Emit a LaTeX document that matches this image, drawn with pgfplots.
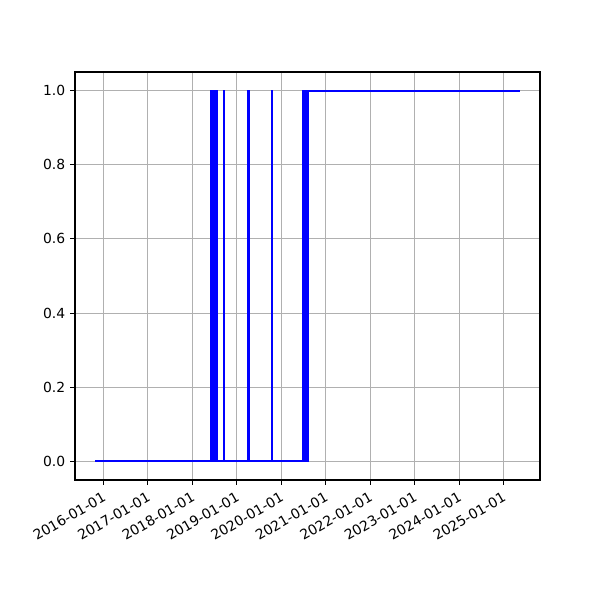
\documentclass[border=0pt]{standalone}
\usepackage{fontspec}
\setmainfont{DejaVu Sans}
\usepackage{pgfplots}
\pgfplotsset{compat=1.18}

\begin{document}
\begin{tikzpicture}
\path[use as bounding box] (-54pt,-86.4pt) rectangle (378pt,345.6pt);
\begin{axis}[
    scale only axis,
    width=334.8pt,
    height=293.76pt,
    xmin=2015.36, xmax=2025.82,
    ymin=-0.05, ymax=1.05,
    xtick={2016,2017,2018,2019,2020,2021,2022,2023,2024,2025},
    xticklabels={2016-01-01,2017-01-01,2018-01-01,2019-01-01,2020-01-01,2021-01-01,2022-01-01,2023-01-01,2024-01-01,2025-01-01},
    ytick={0,0.2,0.4,0.6,0.8,1.0},
    yticklabel style={/pgf/number format/fixed, /pgf/number format/fixed zerofill, /pgf/number format/precision=1},
    /pgf/number format/assume math mode=true,
    xticklabel style={rotate=30, anchor=north east, font=\fontsize{10}{12}\selectfont},
    tick label style={font=\fontsize{10}{12}\selectfont},
    xtick pos=left, ytick pos=left,
    tick align=outside,
    major tick length=3.5pt,
    tick style={black, line width=0.8pt},
    axis line style={black, line width=0.8pt},
    grid=major,
    major grid style={color={rgb,255:red,176;green,176;blue,176}, line width=0.8pt},
]
\addplot[const plot, color=blue, line width=1.5pt, mark=none] coordinates {
    (2015.81,0) (2018.41,1) (2018.425,0) (2018.44,1) (2018.46,0) (2018.475,1)
    (2018.495,0) (2018.51,1) (2018.525,0) (2018.54,1) (2018.555,0)
    (2018.712,1) (2018.716,0) (2019.258,1) (2019.262,0) (2019.784,1) (2019.788,0)
    (2020.49,1) (2020.493,0) (2020.515,1) (2020.518,0) (2020.55,1) (2020.553,0)
    (2020.61,1) (2025.37,1)
};
\end{axis}
\end{tikzpicture}
\end{document}
